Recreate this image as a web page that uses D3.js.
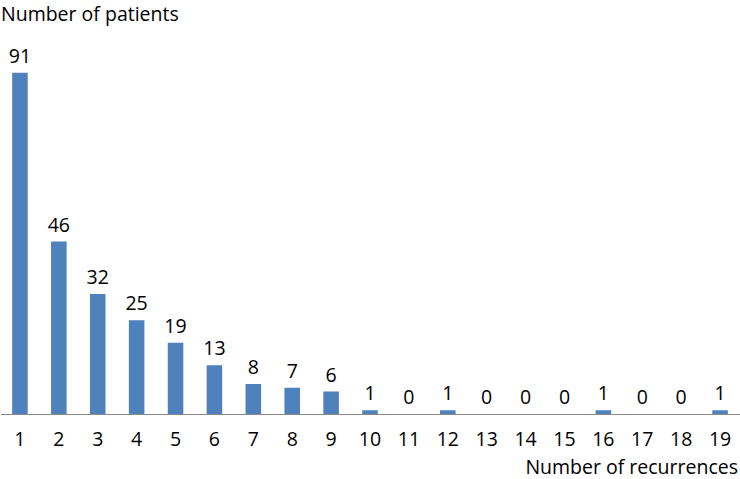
<!DOCTYPE html>
<html><head><meta charset="utf-8">
<script src="https://cdn.jsdelivr.net/npm/d3@7"></script>
<style>html,body{margin:0;padding:0;background:#fff;}svg{display:block;}</style>
</head><body>
<svg id="c" width="740" height="479"></svg>
<script>
const categories = ["1","2","3","4","5","6","7","8","9","10","11","12","13","14","15","16","17","18","19"];
const patients = [91,46,32,25,19,13,8,7,6,1,0,1,0,0,0,1,0,0,1];
const yTitle = "Number of patients";
const xTitle = "Number of recurrences";

const svg = d3.select("#c");
const font = "'Open Sans', 'Noto Sans', sans-serif";
const fs = 19.5;
const x = d3.scaleBand().domain(categories).range([0.5, 739.5]).padding(0);
const y = d3.scaleLinear().domain([0, 100]).range([414, 39]);
const bw = x.bandwidth() * 0.4;

svg.selectAll("rect.bar").data(patients).join("rect")
  .attr("class","bar")
  .attr("x",(d,i)=>x(categories[i]) + x.bandwidth()/2 - bw/2)
  .attr("y",d=>y(d))
  .attr("width",bw)
  .attr("height",d=>y(0)-y(d))
  .attr("fill","#4F81BD");

svg.selectAll("text.val").data(patients).join("text")
  .attr("class","val")
  .attr("x",(d,i)=>x(categories[i]) + x.bandwidth()/2)
  .attr("y",d=>y(d) - 10)
  .attr("text-anchor","middle")
  .attr("font-family",font).attr("font-size",fs).attr("fill","#000")
  .text(d=>d);

const ax = svg.append("g").attr("transform",`translate(0,${y(0)})`)
  .call(d3.axisBottom(x).tickSize(0).tickPadding(18));
ax.select(".domain").attr("stroke","#898989").attr("stroke-width",1);
ax.selectAll("text").attr("font-family",font).attr("font-size",fs).attr("fill","#000");

svg.append("text").attr("x",1).attr("y",21)
  .attr("font-family",font).attr("font-size",fs).attr("fill","#000").text(yTitle);
svg.append("text").attr("x",738).attr("y",473.5).attr("text-anchor","end")
  .attr("font-family",font).attr("font-size",fs).attr("fill","#000").text(xTitle);
</script>
</body></html>
